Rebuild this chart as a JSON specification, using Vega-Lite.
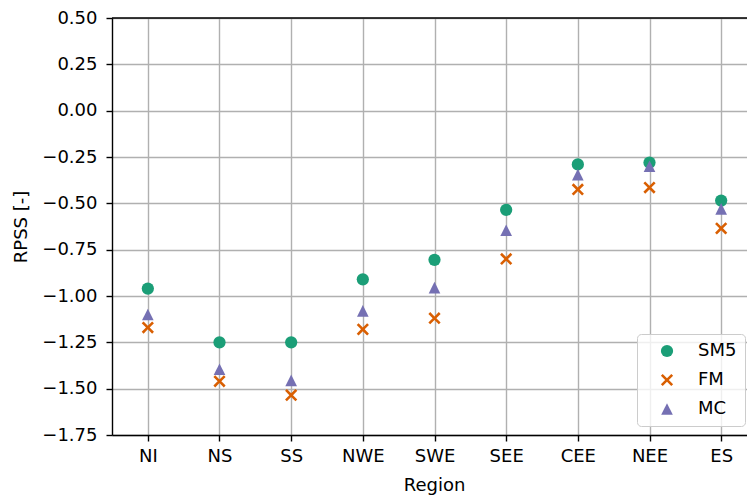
{
  "$schema": "https://vega.github.io/schema/vega-lite/v6.json",
  "width": 635,
  "height": 417,
  "autosize": {"type": "none"},
  "padding": {"left": 112, "top": 18, "right": 0, "bottom": 63},
  "background": "white",
  "config": {
    "view": {"stroke": null},
    "font": "DejaVu Sans",
    "axis": {
      "grid": true,
      "gridColor": "#b0b0b0",
      "gridWidth": 1.4,
      "domainColor": "black",
      "domainWidth": 1.4,
      "tickColor": "black",
      "tickWidth": 1.4,
      "tickSize": 6,
      "labelFont": "DejaVu Sans",
      "labelFontSize": 18,
      "labelColor": "black",
      "titleFont": "DejaVu Sans",
      "titleFontSize": 18,
      "titleFontWeight": "normal",
      "titleColor": "black"
    },
    "legend": {
      "labelFont": "DejaVu Sans",
      "labelFontSize": 18,
      "labelColor": "black"
    }
  },
  "layer": [
    {
      "data": {
        "values": [
          {"region": "NI", "model": "SM5", "rpss": -0.96},
          {"region": "NS", "model": "SM5", "rpss": -1.25},
          {"region": "SS", "model": "SM5", "rpss": -1.25},
          {"region": "NWE", "model": "SM5", "rpss": -0.91},
          {"region": "SWE", "model": "SM5", "rpss": -0.805},
          {"region": "SEE", "model": "SM5", "rpss": -0.535},
          {"region": "CEE", "model": "SM5", "rpss": -0.29},
          {"region": "NEE", "model": "SM5", "rpss": -0.28},
          {"region": "ES", "model": "SM5", "rpss": -0.485},
          {"region": "NI", "model": "FM", "rpss": -1.17},
          {"region": "NS", "model": "FM", "rpss": -1.46},
          {"region": "SS", "model": "FM", "rpss": -1.535},
          {"region": "NWE", "model": "FM", "rpss": -1.18},
          {"region": "SWE", "model": "FM", "rpss": -1.12},
          {"region": "SEE", "model": "FM", "rpss": -0.8},
          {"region": "CEE", "model": "FM", "rpss": -0.425},
          {"region": "NEE", "model": "FM", "rpss": -0.415},
          {"region": "ES", "model": "FM", "rpss": -0.635},
          {"region": "NI", "model": "MC", "rpss": -1.1},
          {"region": "NS", "model": "MC", "rpss": -1.395},
          {"region": "SS", "model": "MC", "rpss": -1.455},
          {"region": "NWE", "model": "MC", "rpss": -1.08},
          {"region": "SWE", "model": "MC", "rpss": -0.955},
          {"region": "SEE", "model": "MC", "rpss": -0.645},
          {"region": "CEE", "model": "MC", "rpss": -0.345},
          {"region": "NEE", "model": "MC", "rpss": -0.3},
          {"region": "ES", "model": "MC", "rpss": -0.53}
        ]
      },
      "mark": {"type": "point", "filled": true, "opacity": 1, "size": 150, "strokeWidth": 0},
      "encoding": {
        "x": {
          "field": "region",
          "type": "nominal",
          "scale": {
            "type": "point",
            "domain": ["NI", "NS", "SS", "NWE", "SWE", "SEE", "CEE", "NEE", "ES"],
            "range": [0, 645],
            "padding": 0.5
          },
          "axis": {"title": "Region", "labelAngle": 0, "labelPadding": 6, "titleBaseline": "alphabetic", "titleX": 322, "titleY": 55}
        },
        "y": {
          "field": "rpss",
          "type": "quantitative",
          "scale": {"domain": [-1.75, 0.5], "nice": false, "zero": false},
          "axis": {
            "title": "RPSS [-]",
            "values": [-1.75, -1.5, -1.25, -1, -0.75, -0.5, -0.25, 0, 0.25, 0.5],
            "format": ".2f",
            "labelPadding": 9,
            "titleBaseline": "middle",
            "titleX": -91,
            "titleY": 208.5
          }
        },
        "color": {
          "field": "model",
          "type": "nominal",
          "scale": {"domain": ["SM5", "FM", "MC"], "range": ["#1b9e77", "#d95f02", "#7570b3"]},
          "legend": {
            "title": null,
            "orient": "none",
            "legendX": 525,
            "legendY": 316,
            "padding": 8,
            "symbolOffset": 13,
            "labelOffset": 22,
            "rowPadding": 11,
            "symbolSize": 150,
            "symbolStrokeWidth": 0,
            "fillColor": "rgba(255,255,255,0.8)",
            "strokeColor": "#cccccc",
            "cornerRadius": 4
          }
        },
        "shape": {
          "field": "model",
          "type": "nominal",
          "scale": {
            "domain": ["SM5", "FM", "MC"],
            "range": ["circle", "M-1,-0.7L-0.7,-1L0,-0.3L0.7,-1L1,-0.7L0.3,0L1,0.7L0.7,1L0,0.3L-0.7,1L-1,0.7L-0.3,0Z", "M0,-0.95L0.95,0.95L-0.95,0.95Z"]
          }
        }
      }
    },
    {
      "data": {"values": [{}]},
      "mark": {"type": "rule", "color": "black", "strokeWidth": 1.4},
      "encoding": {"y": {"datum": 0.5, "type": "quantitative"}}
    }
  ]
}
